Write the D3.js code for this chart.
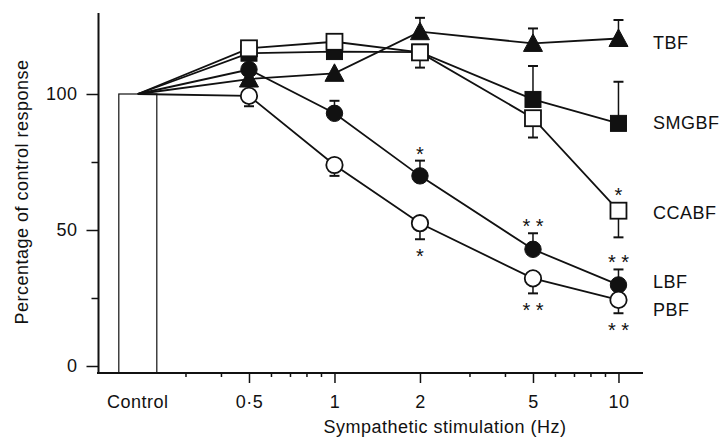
<!DOCTYPE html>
<html>
<head>
<meta charset="utf-8">
<script src="https://cdn.jsdelivr.net/npm/d3@7"></script>
<style>
body { margin: 0; background: #fff; }
svg text { font-family: "Liberation Sans", Arial, Helvetica, sans-serif; fill: #111; letter-spacing: 0.5px; }
</style>
</head>
<body>
<svg id="chart" width="720" height="441"></svg>
<script>
// x categories: control sits left of the log axis, then stimulation frequencies
const freqLabels = ["Control", "0·5", "1", "2", "5", "10"];
const freqHz = [0.203, 0.5, 1, 2, 5, 10];
const minorHz = [0.3, 0.4, 0.6, 0.7, 0.8, 0.9, 3, 4, 6, 7, 8, 9];
const yTicks = [0, 25, 50, 75, 100];

// percentage of control response, mean and error (SEM)
const tbfMean   = [100, 105.5, 107.6, 122.9, 118.6, 120.4];
const tbfErr    = [0, 0, 0, 5.1, 5.5, 6.8];
const smgbfMean = [100, 115, 115.6, 115.4, 98, 89.2];
const smgbfErr  = [0, 0, 0, 0, 12.3, 15.3];
const ccabfMean = [100, 116.8, 119.2, 115.3, 91.1, 57.1];
const ccabfErr  = [0, 0, 0, 5.6, 7.1, 9.8];
const lbfMean   = [100, 109, 92.9, 69.9, 42.9, 29.8];
const lbfErr    = [0, 0, 4.6, 5.6, 5.9, 5.7];
const pbfMean   = [100, 99.3, 73.9, 52.5, 32.2, 24.3];
const pbfErr    = [0, 3.8, 4, 5.9, 5.5, 4.9];

const ccabfSig = ["", "", "", "", "", "*"];
const lbfSig   = ["", "", "", "*", "* *", "* *"];
const pbfSig   = ["", "", "", "*", "* *", "* *"];

//-----------------------------------------------------
const svg = d3.select("#chart");
const x = d3.scaleLog().domain([0.147, 12.2]).range([98, 643]);
const y = d3.scaleLinear().domain([0, 100]).range([366, 94]);
const axisY = 373;

// series spec: dir = +1 error bar drawn upward, -1 downward; side = where stars go
const series = [
	{ name: "TBF",   mean: tbfMean,   err: tbfErr,   dir: 1,  shape: "tri",    filled: true,  sig: null,     side: 1,  ldy: 4 },
	{ name: "SMGBF", mean: smgbfMean, err: smgbfErr, dir: 1,  shape: "square", filled: true,  sig: null,     side: 1,  ldy: -1 },
	{ name: "LBF",   mean: lbfMean,   err: lbfErr,   dir: 1,  shape: "circle", filled: true,  sig: lbfSig,   side: 1,  ldy: -3 },
	{ name: "CCABF", mean: ccabfMean, err: ccabfErr, dir: -1, shape: "square", filled: false, sig: ccabfSig, side: 1,  ldy: 2 },
	{ name: "PBF",   mean: pbfMean,   err: pbfErr,   dir: -1, shape: "circle", filled: false, sig: pbfSig,   side: -1, ldy: 10 }
];

// control bar
svg.append("rect")
	.attr("x", x(freqHz[0]) - 19)
	.attr("y", y(100))
	.attr("width", 38)
	.attr("height", axisY - y(100))
	.attr("fill", "#fff")
	.attr("stroke", "#111")
	.attr("stroke-width", 1.2);

// axes
const gy = svg.append("g").attr("transform", "translate(98.5,0)");
gy.call(d3.axisLeft(y).tickValues(yTicks).tickSize(12).tickPadding(9).tickFormat(function(d) {
	return d % 50 === 0 ? d : "";
}));
gy.selectAll(".tick line").attr("stroke", "#111").attr("stroke-width", 1.5)
	.attr("x2", function(d) { return d % 50 === 0 ? -12 : -7; });
gy.select(".domain").remove();
gy.selectAll("text").attr("font-size", 18).style("font-family", null);
svg.append("line")
	.attr("x1", 98.5).attr("x2", 98.5)
	.attr("y1", 13).attr("y2", axisY + 1)
	.attr("stroke", "#111").attr("stroke-width", 2);

const gx = svg.append("g").attr("transform", "translate(0," + axisY + ")");
gx.call(d3.axisBottom(x).tickValues(freqHz.slice(1)).tickSize(10).tickPadding(12)
	.tickFormat(function(d, i) { return freqLabels[i + 1]; }));
gx.select(".domain").remove();
gx.selectAll(".tick line").attr("stroke", "#111").attr("stroke-width", 1.5);
gx.selectAll("text").attr("font-size", 18).style("font-family", null);
gx.selectAll(".minor")
	.data(minorHz).enter().append("line")
	.attr("x1", function(d) { return x(d); }).attr("x2", function(d) { return x(d); })
	.attr("y1", 0).attr("y2", 4)
	.attr("stroke", "#111").attr("stroke-width", 1.5);
svg.append("line")
	.attr("x1", 97).attr("x2", 643)
	.attr("y1", axisY).attr("y2", axisY)
	.attr("stroke", "#111").attr("stroke-width", 2);
svg.append("text")
	.attr("x", x(freqHz[0])).attr("y", 408)
	.attr("text-anchor", "middle").attr("font-size", 18)
	.text(freqLabels[0]);

// axis titles
svg.append("text")
	.attr("x", 445).attr("y", 433)
	.attr("text-anchor", "middle").attr("font-size", 18)
	.text("Sympathetic stimulation (Hz)");
svg.append("text")
	.attr("transform", "translate(28,192) rotate(-90)")
	.attr("text-anchor", "middle").attr("font-size", 18)
	.text("Percentage of control response");

// lines
const line = d3.line()
	.x(function(d, i) { return x(freqHz[i]); })
	.y(function(d) { return y(d); });
series.forEach(function(s) {
	svg.append("path")
		.attr("d", line(s.mean))
		.attr("fill", "none")
		.attr("stroke", "#111")
		.attr("stroke-width", 1.8);
});

// error bars
series.forEach(function(s) {
	s.mean.forEach(function(m, i) {
		if (!s.err[i]) return;
		const cx = x(freqHz[i]), y0 = y(m), y1 = y(m + s.dir * s.err[i]);
		svg.append("line").attr("x1", cx).attr("x2", cx).attr("y1", y0).attr("y2", y1)
			.attr("stroke", "#111").attr("stroke-width", 1.5);
		svg.append("line").attr("x1", cx - 5).attr("x2", cx + 5).attr("y1", y1).attr("y2", y1)
			.attr("stroke", "#111").attr("stroke-width", 2);
	});
});

// markers (filled first, open ones on top)
function marker(g, shape) {
	if (shape === "circle") return g.append("circle").attr("r", 8.2);
	if (shape === "square") return g.append("rect").attr("x", -8).attr("y", -8).attr("width", 16).attr("height", 16);
	return g.append("path").attr("d", "M0,-9.5L9.5,8L-9.5,8Z");
}
series.forEach(function(s) {
	s.mean.forEach(function(m, i) {
		if (i === 0) return;
		const g = svg.append("g").attr("transform", "translate(" + x(freqHz[i]) + "," + y(m) + ")");
		marker(g, s.shape)
			.attr("fill", s.filled ? "#111" : "#fff")
			.attr("stroke", "#111")
			.attr("stroke-width", s.filled ? 1 : 1.8);
	});
});

// significance stars: beyond the error bar, or beyond the marker on the other side
series.forEach(function(s) {
	if (!s.sig) return;
	s.mean.forEach(function(m, i) {
		if (!s.sig[i]) return;
		const end = s.side === s.dir ? y(m + s.dir * s.err[i]) : y(m) - s.side * 9;
		const cy = s.side > 0 ? end - 11 : end + 13;
		svg.append("text")
			.attr("x", x(freqHz[i])).attr("y", cy + 11)
			.attr("text-anchor", "middle").attr("font-size", 20)
			.style("letter-spacing", "0px")
			.text(s.sig[i]);
	});
});

// series labels
series.forEach(function(s) {
	svg.append("text")
		.attr("x", 653)
		.attr("y", y(s.mean[5]) + s.ldy)
		.attr("dy", "0.35em")
		.attr("font-size", 18)
		.text(s.name);
});
</script>
</body>
</html>
